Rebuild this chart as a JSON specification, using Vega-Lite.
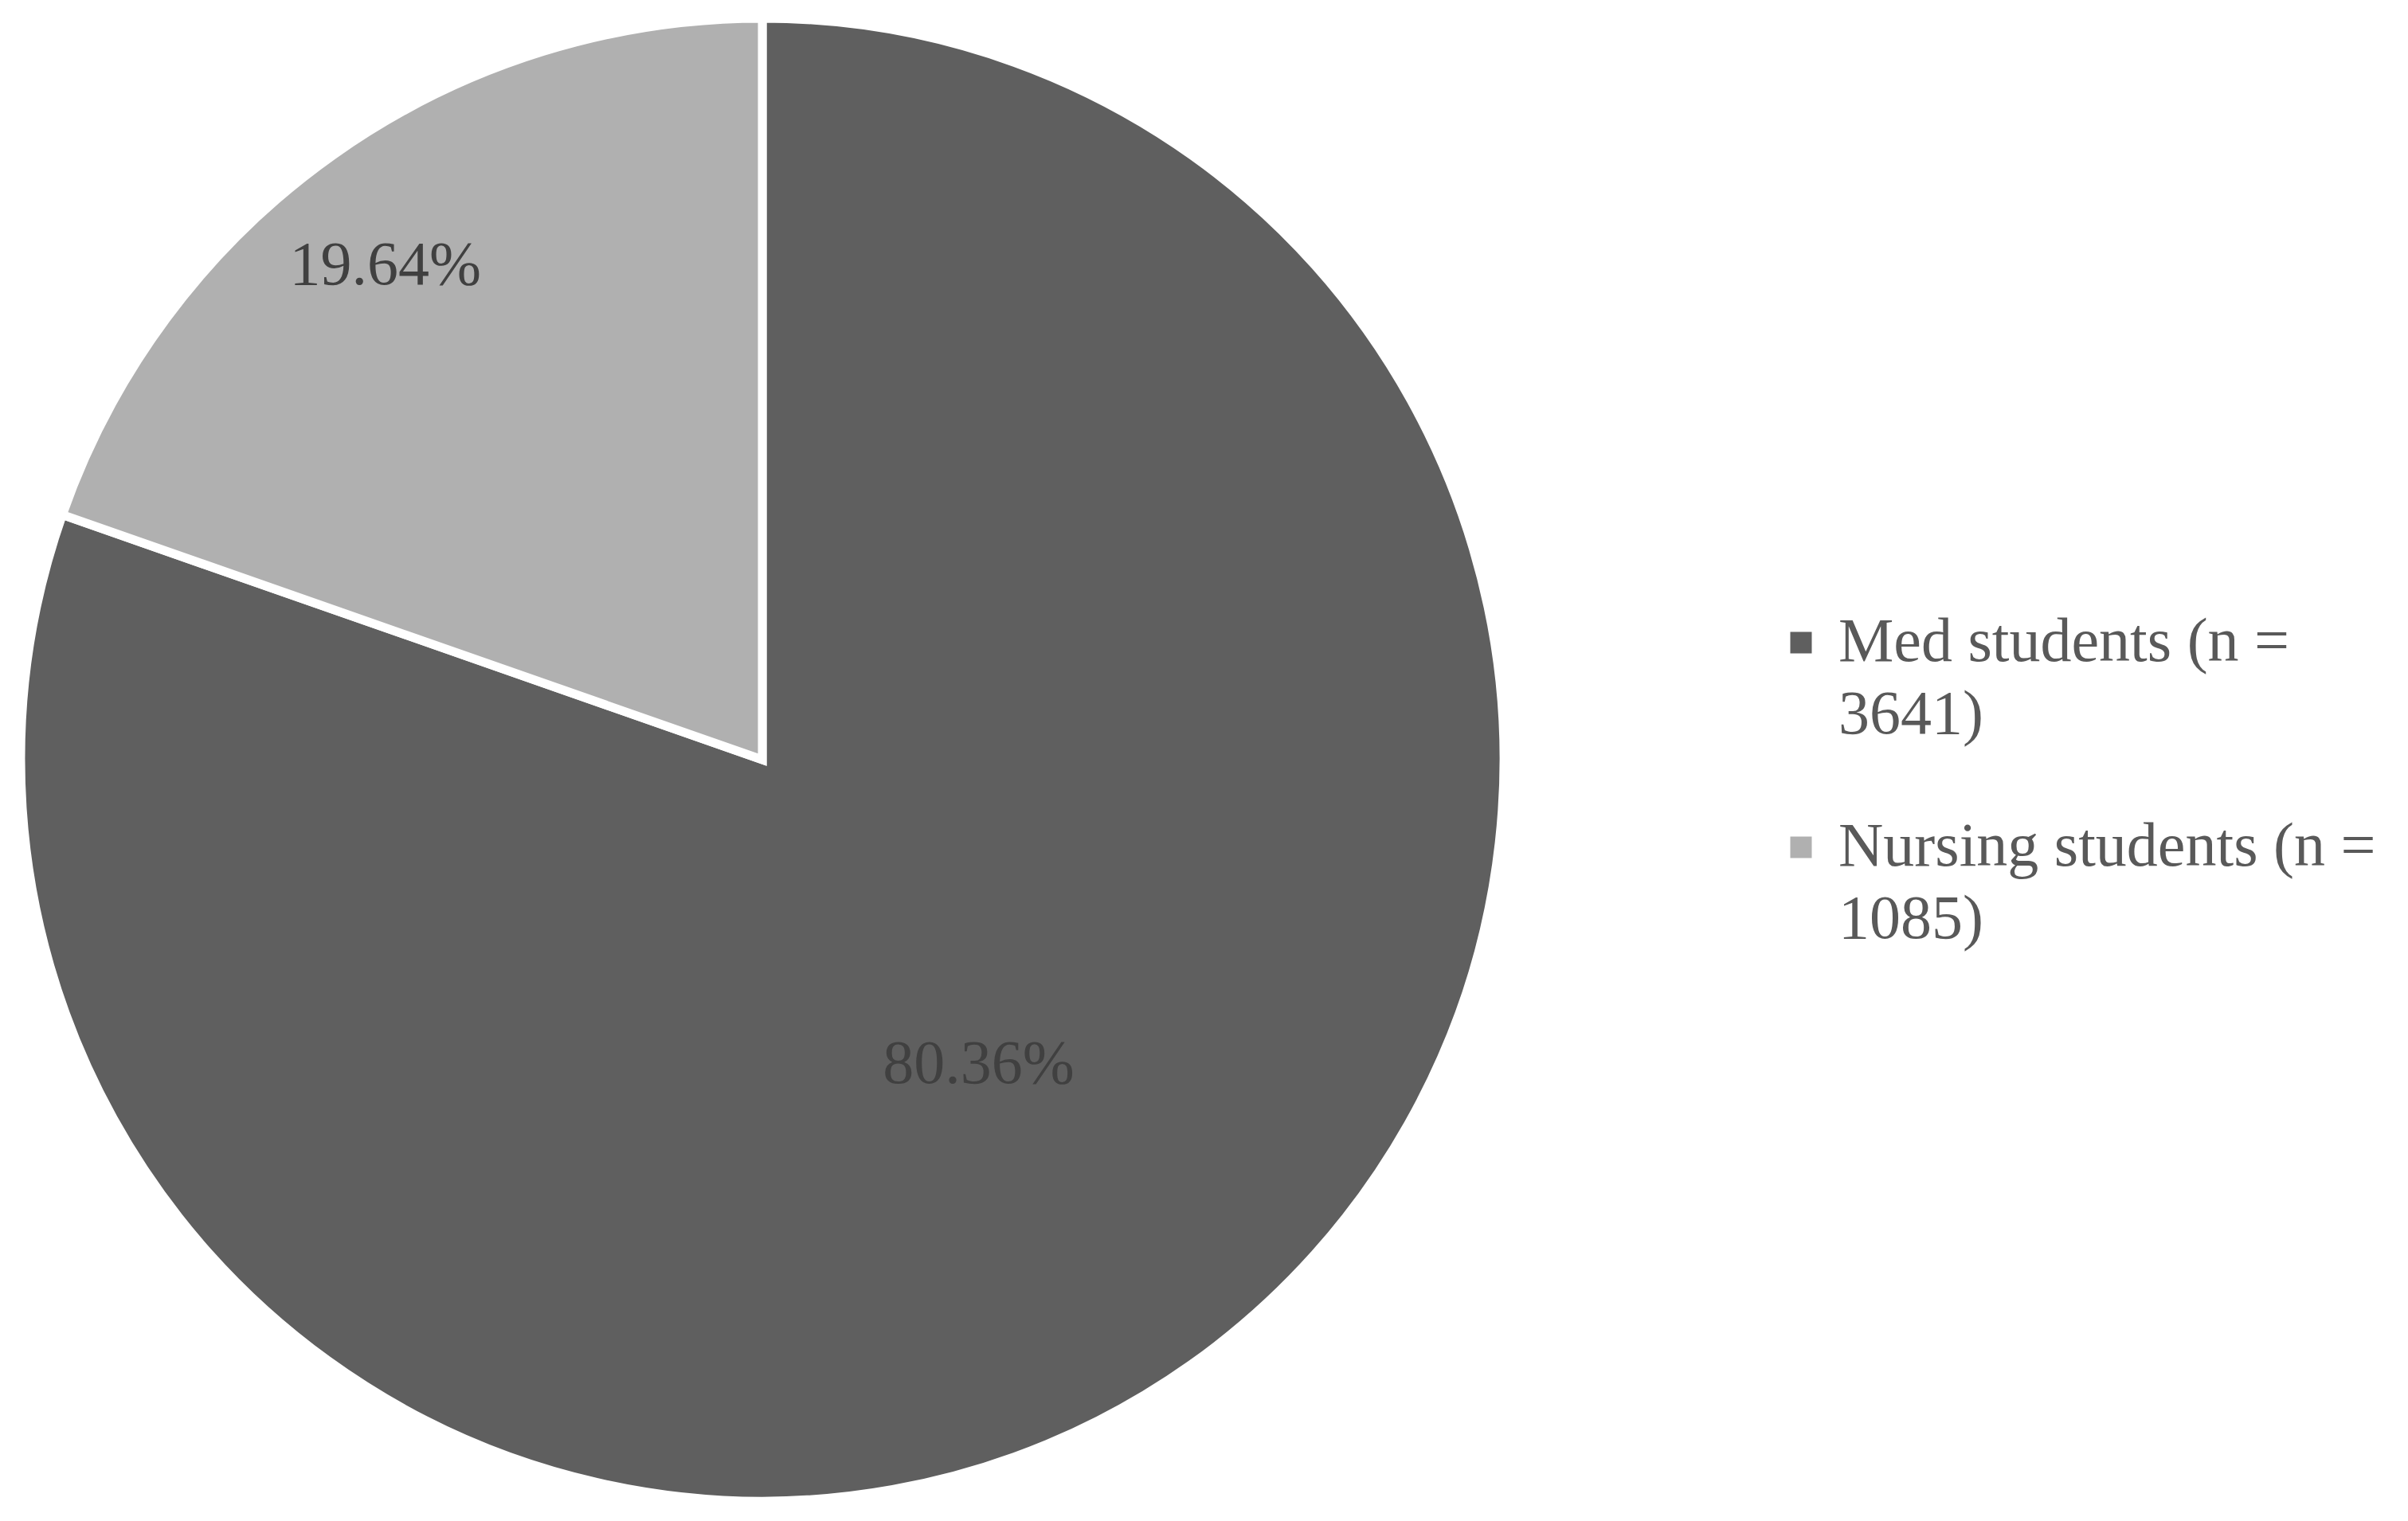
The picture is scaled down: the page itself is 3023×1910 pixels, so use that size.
{
  "$schema": "https://vega.github.io/schema/vega-lite/v6.json",
  "width": 1914,
  "height": 1908,
  "autosize": {"type": "none"},
  "padding": {"left": 0, "top": 0, "right": 1109, "bottom": 2},
  "background": "white",
  "config": {"style": {"guide-label": {"lineHeight": 91}}},
  "data": {
    "values": [
      {"group": "Med students (n = 3641)", "share": 80.36, "label": "80.36%"},
      {"group": "Nursing students (n = 1085)", "share": 19.64, "label": "19.64%"}
    ]
  },
  "encoding": {
    "theta": {"field": "share", "type": "quantitative", "stack": true},
    "order": {"field": "group", "type": "nominal", "sort": "ascending"}
  },
  "layer": [
    {
      "mark": {"type": "arc", "outerRadius": 931, "stroke": "white", "strokeWidth": 11},
      "encoding": {
        "color": {
          "field": "group",
          "type": "nominal",
          "scale": {"domain": ["Med students (n = 3641)", "Nursing students (n = 1085)"], "range": ["#5f5f5f", "#b0b0b0"]},
          "legend": {
            "title": null,
            "orient": "none",
            "legendX": 2222,
            "legendY": 768,
            "padding": 0,
            "symbolType": "square",
            "symbolSize": 729,
            "symbolStrokeWidth": 0,
            "labelFont": "Liberation Serif",
            "labelFontSize": 78,
            "labelColor": "#595959",
            "labelOffset": 8,
            "labelLimit": 1000,
            "rowPadding": 88,
            "labelExpr": "datum.label == 'Med students (n = 3641)' ? ['Med students (n =', '3641)'] : ['Nursing students (n =', '1085)']",
            "encode": {"labels": {"update": {"lineHeight": {"value": 91}}}}
          }
        }
      }
    },
    {
      "mark": {"type": "text", "radius": 469, "font": "Liberation Serif", "fontSize": 78, "color": "#404040"},
      "encoding": {
        "text": {"condition": {"test": "datum.group == 'Med students (n = 3641)'", "field": "label"}, "value": ""}
      }
    },
    {
      "mark": {"type": "text", "radius": 780, "dx": -22, "dy": 16, "font": "Liberation Serif", "fontSize": 78, "color": "#404040"},
      "encoding": {
        "text": {"condition": {"test": "datum.group == 'Nursing students (n = 1085)'", "field": "label"}, "value": ""}
      }
    }
  ]
}
